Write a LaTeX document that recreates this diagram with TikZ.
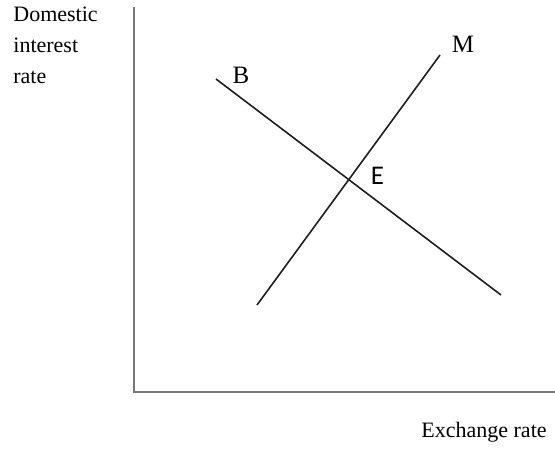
\documentclass[tikz,border=0pt]{standalone}
\usepackage{fontspec}
\setmainfont{Liberation Serif}
\newfontfamily\calfont{Carlito}
\usetikzlibrary{calc,intersections}
\definecolor{axisgray}{RGB}{120,120,120}
\definecolor{curve}{RGB}{30,30,30}

\begin{document}
\begin{tikzpicture}[x=0.5pt,y=-0.5pt,
    axis/.style={axisgray,line width=0.9pt},
    curveline/.style={curve,line width=0.8pt},
    lbl/.style={anchor=base,inner sep=0pt},
    axlbl/.style={anchor=base west,inner sep=0pt,font=\fontsize{11}{15.5}\selectfont}]
    \useasboundingbox (0,0) rectangle (555,450);
    % axes
    \coordinate (o) at (134,392);
    \coordinate (ytop) at (134,7);
    \coordinate (xend) at (555,392);
    \draw[axis] (ytop) -- (o) -- (xend);
    \node[axlbl,align=left,anchor=north west] (ylab) at (13,7) {Domestic\\interest\\rate};
    \node[axlbl] (xlab) at (421,437) {Exchange rate};
    % B and M schedules
    \coordinate (b1) at (216,79);
    \coordinate (b2) at (501,295);
    \coordinate (m1) at (257,305);
    \coordinate (m2) at (440,55);
    \draw[curveline,name path=bline] (b1) -- (b2);
    \draw[curveline,name path=mline] (m1) -- (m2);
    \path[name intersections={of=bline and mline,by=e}];
    \node[lbl,font=\fontsize{12.5}{15}\selectfont] (blab) at (241,83) {B};
    \node[lbl,font=\fontsize{12.5}{15}\selectfont] (mlab) at (463,52) {M};
    \node[lbl,font=\calfont\fontsize{13.5}{16}\selectfont] (elab) at (377.5,184) {E};
  \end{tikzpicture}
\end{document}
